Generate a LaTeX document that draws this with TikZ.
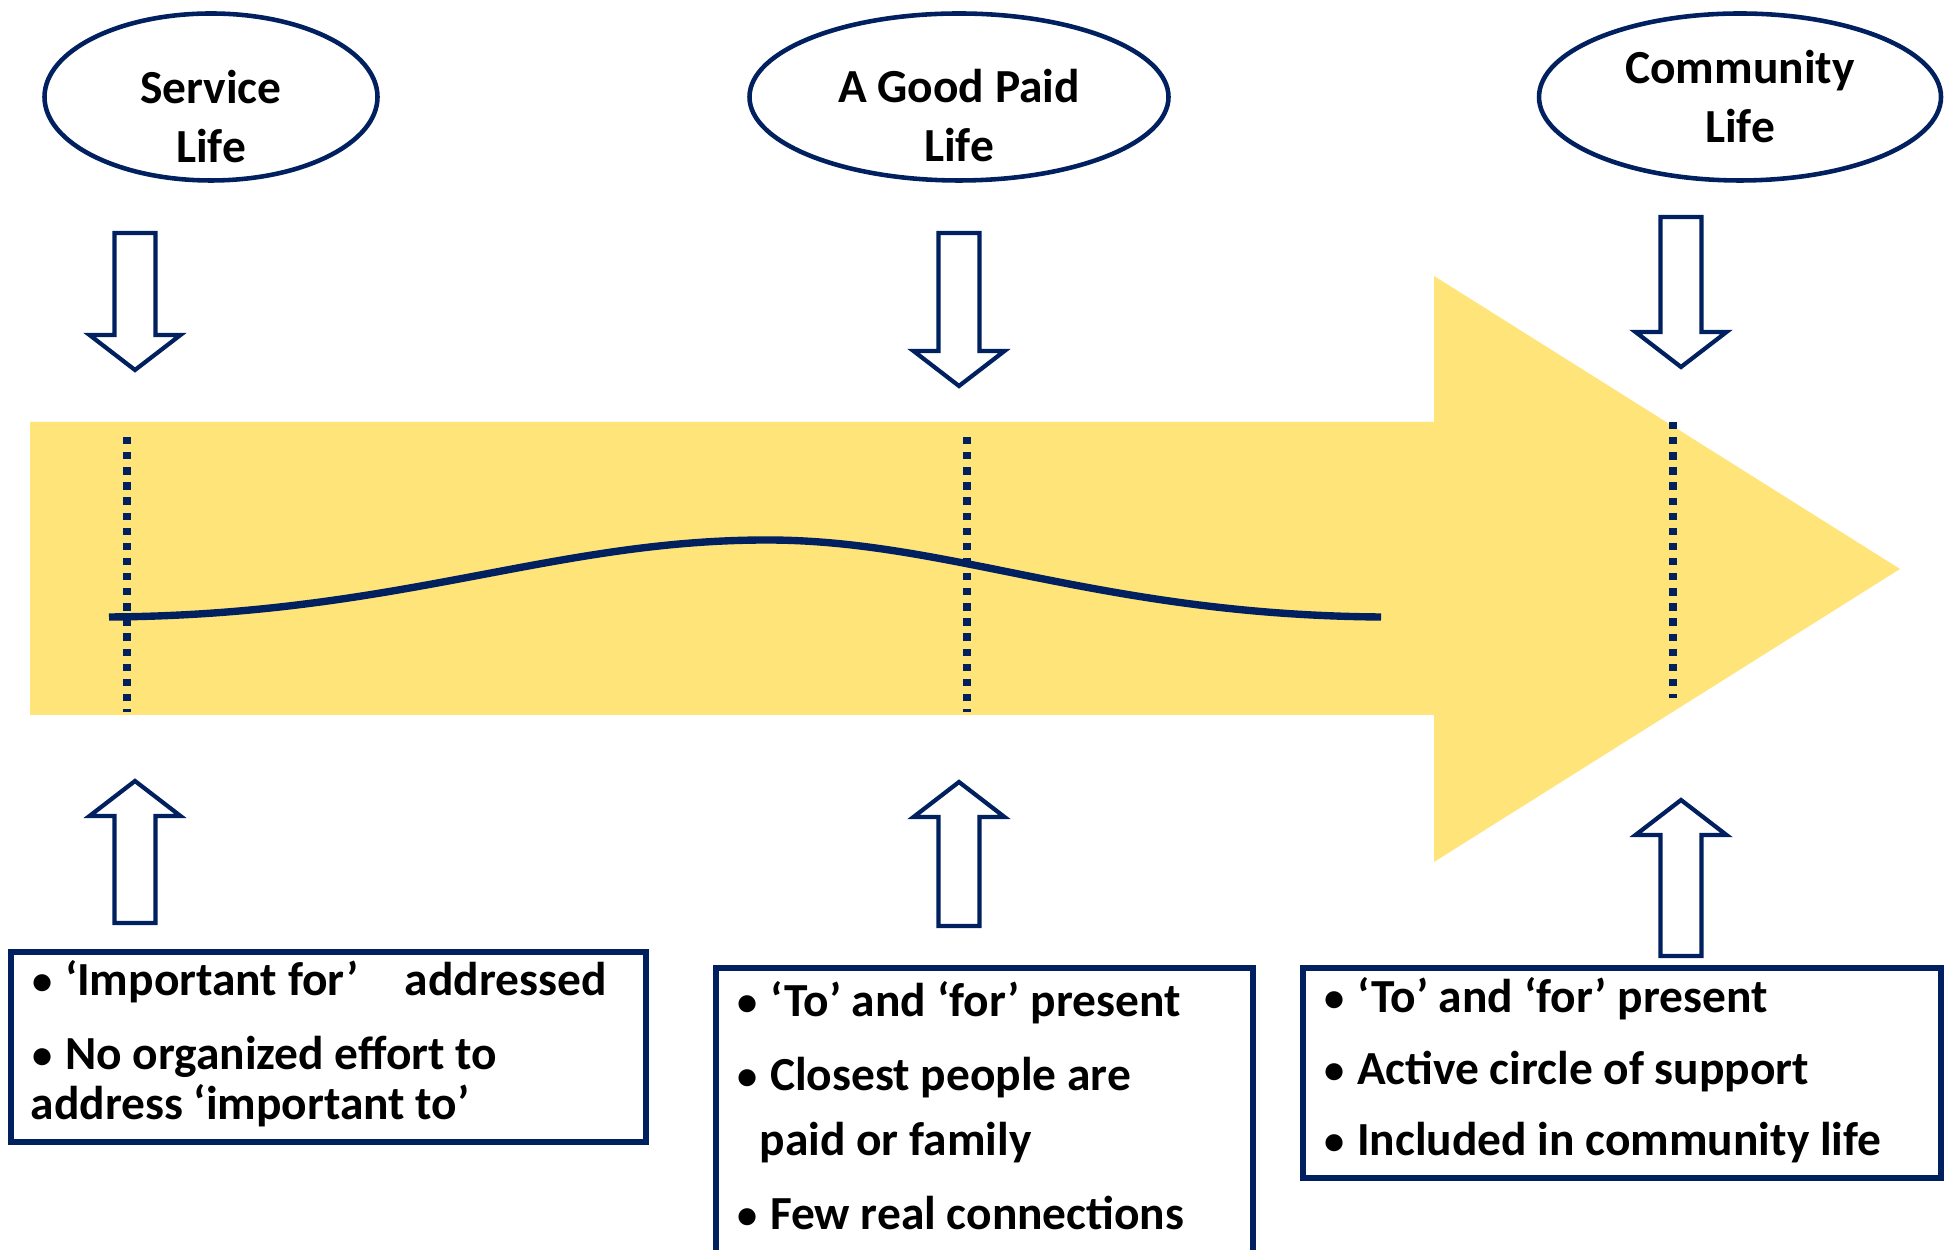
\documentclass[tikz,border=0pt]{standalone}
\usepackage{fontspec}
\setmainfont{Carlito}
\usepackage{graphicx}
\usepackage{tikz}
\usetikzlibrary{shapes.geometric}

\definecolor{navy}{HTML}{002060}
\definecolor{gold}{HTML}{FFE47A}
\newcommand{\dotmark}{\makebox[\fontcharwd\font"2022][c]{\raisebox{0.02em}{\scalebox{0.85}{•}}}}

\begin{document}
\begin{tikzpicture}[
  x=0.1mm, y=-0.1mm,
  lifeoval/.style={draw=navy, line width=1.3pt, ellipse, minimum height=16.7mm, inner sep=0pt},
  ovaltext/.style={align=center, inner sep=0pt, font=\fontsize{13.5}{16.8}\selectfont\bfseries},
  notebox/.style={draw=navy, line width=1.5pt, rectangle, inner sep=0pt},
  notetext/.style={align=left, anchor=north west, inner sep=0pt, font=\fontsize{13.5}{14.2}\selectfont\bfseries},
  arrline/.style={draw=navy, line width=1.2pt, fill=white},
  marker/.style={navy, line width=2.1pt, dash pattern=on 2.1pt off 2.2pt},
  pics/fatarrow/.style={code={
    \draw[arrline] (-20.5,0) -- (20.5,0) -- (20.5,#1) -- (45.5,#1) -- (0,{#1+35}) -- (-45.5,#1) -- (-20.5,#1) -- cycle;
  }}
]
\useasboundingbox (0,0) rectangle (1947,1250);

\fill[gold] (30,422) -- (1434,422) -- (1434,276) -- (1900,569) -- (1434,862) -- (1434,715) -- (30,715) -- cycle;

\draw[marker] (127,437) -- (127,712);
\draw[marker] (967,437) -- (967,712);
\draw[marker] (1673,422) -- (1673,698);
\draw[navy, line width=2.1pt] (109,617) .. controls (400,615) and (550,540) .. (767,540)
  .. controls (950,540) and (1100,615) .. (1381,617);

\node[lifeoval, minimum width=33.3mm] (service)   at (211,97)  {};
\node[lifeoval, minimum width=41.9mm] (paid)      at (959,97)  {};
\node[lifeoval, minimum width=40.2mm] (community) at (1740,97) {};
\node[ovaltext] (servicetxt)   at (211,117)  {Service\\Life};
\node[ovaltext] (paidtxt)      at (959,116)  {A Good Paid\\Life};
\node[ovaltext] (communitytxt) at (1740,97)  {Community\\Life};

\pic (down1) at (135,233)  {fatarrow=102};
\pic (down2) at (959,233)  {fatarrow=118};
\pic (down3) at (1681,217) {fatarrow=115};
\pic[yscale=-1] (up1) at (135,923)  {fatarrow=107};
\pic[yscale=-1] (up2) at (959,926)  {fatarrow=109};
\pic[yscale=-1] (up3) at (1681,956) {fatarrow=121};

\node[notebox, minimum width=63.5mm, minimum height=19mm]   (forbox) at (328.5,1047) {};
\node[notebox, minimum width=53.7mm, minimum height=29.4mm] (tobox)  at (984.5,1115) {};
\node[notebox, minimum width=63.8mm, minimum height=21mm]   (incbox) at (1622,1073)  {};

\node[notetext] (forlist) at (30,960) {\dotmark{} ‘Important for’\hspace{0.97em}addressed\\[6.85pt]\dotmark{} No organized effort to\\address ‘important to’};
\node[notetext] (tolist)  at (735,981) {\dotmark{} ‘To’ and ‘for’ present\\[6.85pt]\dotmark{} Closest people are\\[4.3pt]\hspace*{6.8pt}paid or family\\[6.85pt]\dotmark{} Few real connections};
\node[notetext] (inclist) at (1322,977) {\dotmark{} ‘To’ and ‘for’ present\\[6.3pt]\dotmark{} Active circle of support\\[6pt]\dotmark{} Included in community life};
\end{tikzpicture}
\end{document}
